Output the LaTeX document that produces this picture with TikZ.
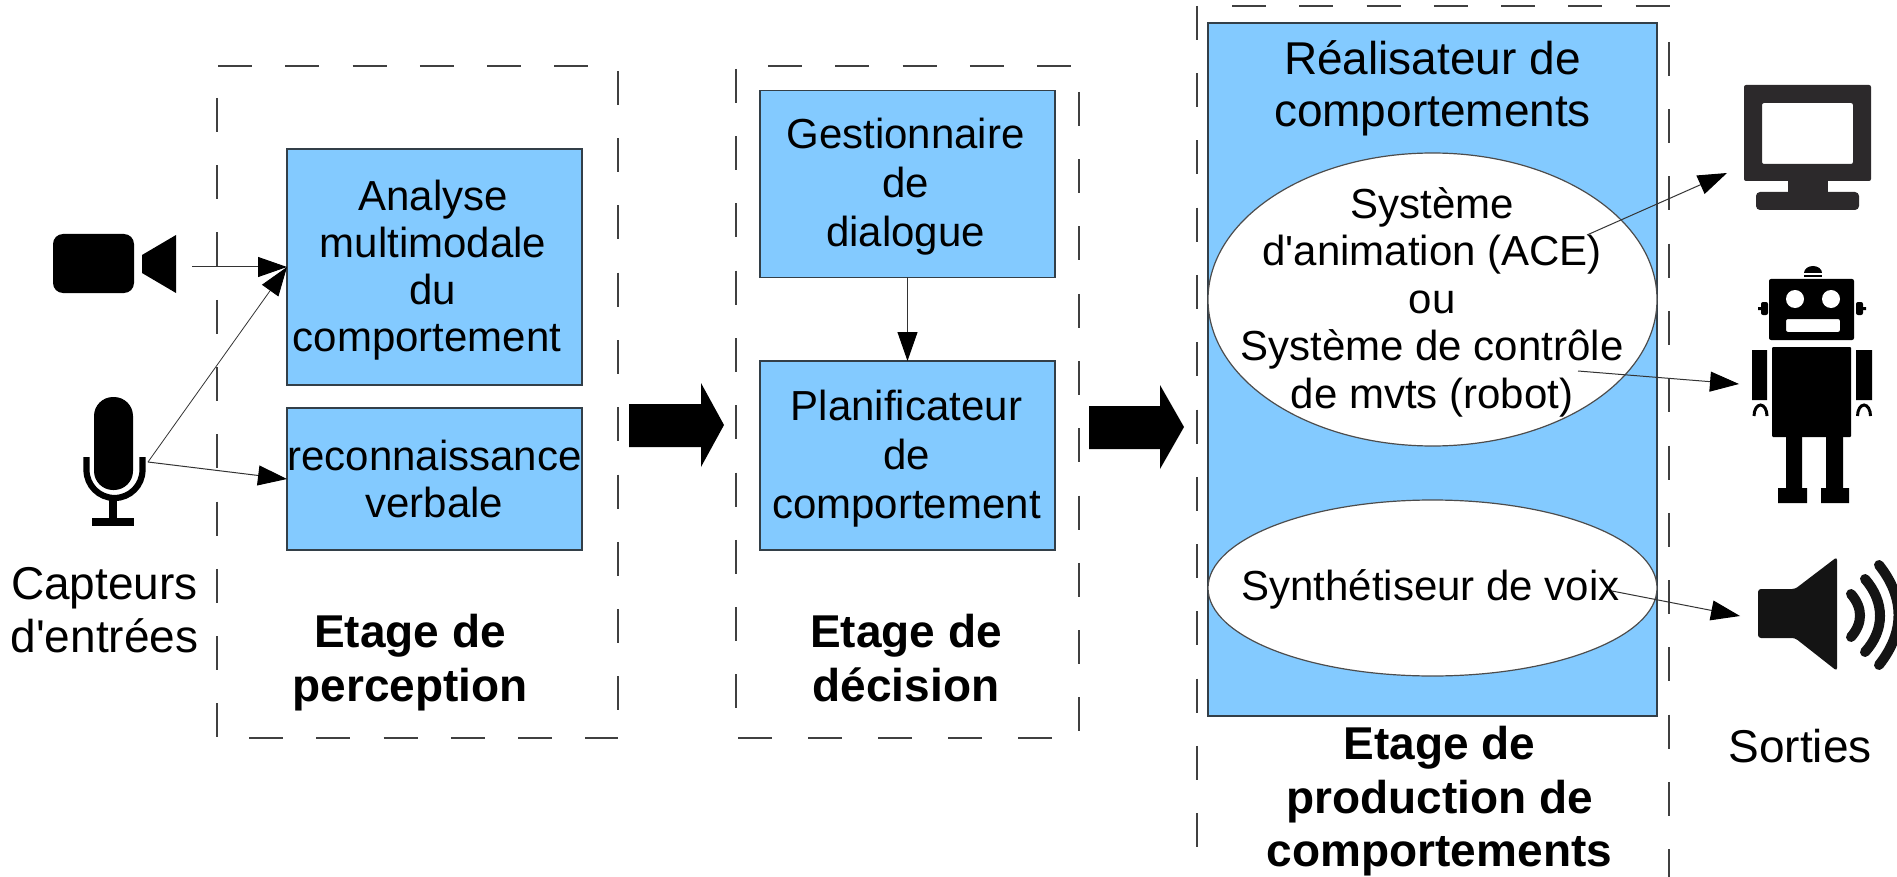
\documentclass[tikz,border=0pt]{standalone}
\usepackage{fontspec}
\setmainfont{Liberation Sans}
\newfontfamily\plainfont{Liberation Sans}
\usetikzlibrary{arrows.meta,shapes.geometric}
\definecolor{boxblue}{HTML}{83CAFF}
\definecolor{edgeg}{HTML}{333F48}
\newcommand{\apos}{{\plainfont\symbol{39}}}
\tikzset{
  x=1pt,y=-1pt,
  bluebox/.style={draw=edgeg,line width=1.4pt,fill=boxblue,inner sep=0pt,outer sep=0pt},
  txt/.style={font=\fontsize{42}{47}\selectfont,align=center,inner sep=0pt,text=black},
  txtwide/.style={font=\fontsize{42}{49}\selectfont,align=center,inner sep=0pt,text=black},
  title/.style={font=\fontsize{46}{52}\selectfont,align=center,inner sep=0pt,text=black},
  bold/.style={font=\fontsize{46}{53.5}\selectfont\bfseries,align=center,inner sep=0pt,text=black},
  side/.style={font=\fontsize{46}{53}\selectfont,align=center,inner sep=0pt,text=black},
  dashside/.style={draw=black!75,line width=1.2pt,dash pattern=on 34pt off 33.25pt},
  conn/.style={draw=black!80,line width=1pt,-{Triangle[length=29pt,width=20pt,color=black]}},
  oval/.style={ellipse,draw=black!70,line width=1.2pt,fill=white,inner sep=0pt,outer sep=0pt},
  bigarrow/.style={fill=black,draw=none}
}
\begin{document}
\begin{tikzpicture}
\useasboundingbox (0,0) rectangle (1897,877);
% dashed frames
\begin{scope}
\clip (0,0) rectangle (1897,877);
\draw[dashside] (218,66) -- (618,66);
\draw[dashside] (618,71) -- (618,738);
\draw[dashside] (249,738) -- (618,738);
\draw[dashside] (217,98) -- (217,738);
\draw[dashside] (768,66) -- (1078,66);
\draw[dashside] (1079,92) -- (1079,738);
\draw[dashside,dash pattern=on 34pt off 36pt] (738,738) -- (1078,738);
\draw[dashside] (736,69) -- (736,738);
\draw[dashside] (1232,6) -- (1670,6);
\draw[dashside] (1669,42) -- (1669,877);
\draw[dashside] (1197,6) -- (1197,877);
\end{scope}
% blue boxes
\node[bluebox,minimum width=295pt,minimum height=236pt] (analyse) at (434.5,267) {};
\node[bluebox,minimum width=295pt,minimum height=142pt] (reco) at (434.5,479) {};
\node[bluebox,minimum width=295pt,minimum height=187pt] (dlg) at (907.5,184) {};
\node[bluebox,minimum width=295pt,minimum height=189pt] (plan) at (907.5,455.5) {};
\node[bluebox,minimum width=449pt,minimum height=693pt] (real) at (1432.5,369.5) {};
\node[oval,minimum width=449pt,minimum height=293pt] (anim) at (1432.5,299.5) {};
\node[oval,minimum width=449pt,minimum height=176pt] (voix) at (1432.5,588) {};
% box texts
\node[txt] (t1) at (433,270.5) {Analyse\\multimodale\\du\\comportement\hspace*{.278em}};
\node[txt] (t2) at (434.5,479) {reconnaissance\\verbale};
\node[txtwide] (t3) at (905.5,187) {Gestionnaire\\de\\dialogue};
\node[txtwide] (t4) at (906.5,459) {Planificateur\\de\\comportement};
\node[title] (t5) at (1432.5,88.5) {Réalisateur de\\comportements};
\node[txt,font=\fontsize{42}{47.5}\selectfont] (t6) at (1432,302) {Système\\d\apos animation (ACE)\\ou\\Système de contrôle\\de mvts (robot)};
\node[txt] (t7) at (1430.5,589) {Synthétiseur de voix};
\node[bold] (t8) at (410,662.5) {Etage de\\perception};
\node[bold] (t9) at (906,658) {Etage de\\décision};
\node[bold] (t10) at (1439.5,801.5) {Etage de\\production de\\comportements};
\node[side] (t11) at (104.5,610) {Capteurs\\d\apos entrées};
\node[title] (t12) at (1800,746) {Sorties};
% big arrows
\fill[bigarrow] (629,404) -- (701,404) -- (701,383) -- (724,425) -- (701,467) -- (701,447) -- (629,447) -- cycle;
\fill[bigarrow] (1089,406) -- (1160,406) -- (1160,385) -- (1184,427) -- (1160,469) -- (1160,449) -- (1089,449) -- cycle;
% camera
\fill[black,rounded corners=10pt] (53,234) rectangle (134,293);
\fill[black] (142,255) -- (176,235) -- (176,293) -- (142,273) -- cycle;
% microphone
\fill[black,rounded corners=19pt] (94,397) rectangle (133,490);
\draw[black,line width=6.2pt] (86.5,457) -- (86.5,470) arc[start angle=180,end angle=0,radius=28] -- (142.5,457);
\fill[black] (108.5,500) rectangle (117,518);
\fill[black] (92,518) rectangle (134,526);
% monitor
\fill[black!95!cyan,rounded corners=2pt,even odd rule] (1744,85) rectangle (1871,181) (1762,103) rectangle (1853,164);
\fill[black!95!cyan] (1788,181) rectangle (1828,193);
\fill[black!95!cyan,rounded corners=4pt] (1756,192) rectangle (1859,210);
% robot
\fill[black,rounded corners=2pt,even odd rule] (1769,279) rectangle (1854,340) (1786,319) rectangle (1840,332);
\fill[white] (1795,299) circle (9) (1831,299) circle (9);
\fill[black] (1804,273) arc[start angle=180,end angle=360,x radius=9,y radius=7] -- cycle;
\fill[black] (1804,275) rectangle (1822,277.5);
\fill[black,rounded corners=2pt] (1761,302) rectangle (1768,315) (1856,302) rectangle (1863,315);
\fill[black] (1758,307) rectangle (1762,310) (1862,307) rectangle (1866,310);
\fill[black,rounded corners=1pt] (1772,347) rectangle (1851,437);
\fill[black] (1752,350) rectangle (1767,400) (1856,350) rectangle (1872,400);
\draw[black,line width=3pt] (1754,416) arc[start angle=180,end angle=360,x radius=6.5,y radius=11];
\draw[black,line width=3pt] (1857.5,416) arc[start angle=180,end angle=360,x radius=6.5,y radius=11];
\fill[black] (1786,437) rectangle (1802,488) (1826,437) rectangle (1843,488);
\fill[black] (1778,488) rectangle (1807,503) (1821,488) rectangle (1849,503);
% speaker
\fill[black!92,rounded corners=3pt] (1758,589) -- (1795,589) -- (1837,557) -- (1837,671) -- (1795,638) -- (1758,638) -- cycle;
\draw[black!92,line width=10pt,line cap=round] (1851,594) .. controls (1863,608) and (1863,623) .. (1851,637);
\draw[black!92,line width=10pt,line cap=round] (1865,579) .. controls (1885,602) and (1885,630) .. (1865,652);
\draw[black!92,line width=10pt,line cap=round] (1879,565) .. controls (1905,598) and (1905,632) .. (1879,665);
% connector ends
\coordinate (cam) at (192,267);
\coordinate (mic) at (148,462);
\coordinate (s1) at (1587,235);
\coordinate (e1) at (1727,173);
\coordinate (s2) at (1578,371);
\coordinate (e2) at (1739,384);
\coordinate (s3) at (1612,591);
\coordinate (e3) at (1740,616);
\draw[conn] (cam) -- (analyse.west);
\draw[conn,line width=.8pt] (mic) -- (analyse.west);
\draw[conn] (mic) -- (reco.west);
\draw[conn] (dlg.south) -- (plan.north);
\draw[conn] (s1) -- (e1);
\draw[conn] (s2) -- (e2);
\draw[conn] (s3) -- (e3);
\end{tikzpicture}
\end{document}
